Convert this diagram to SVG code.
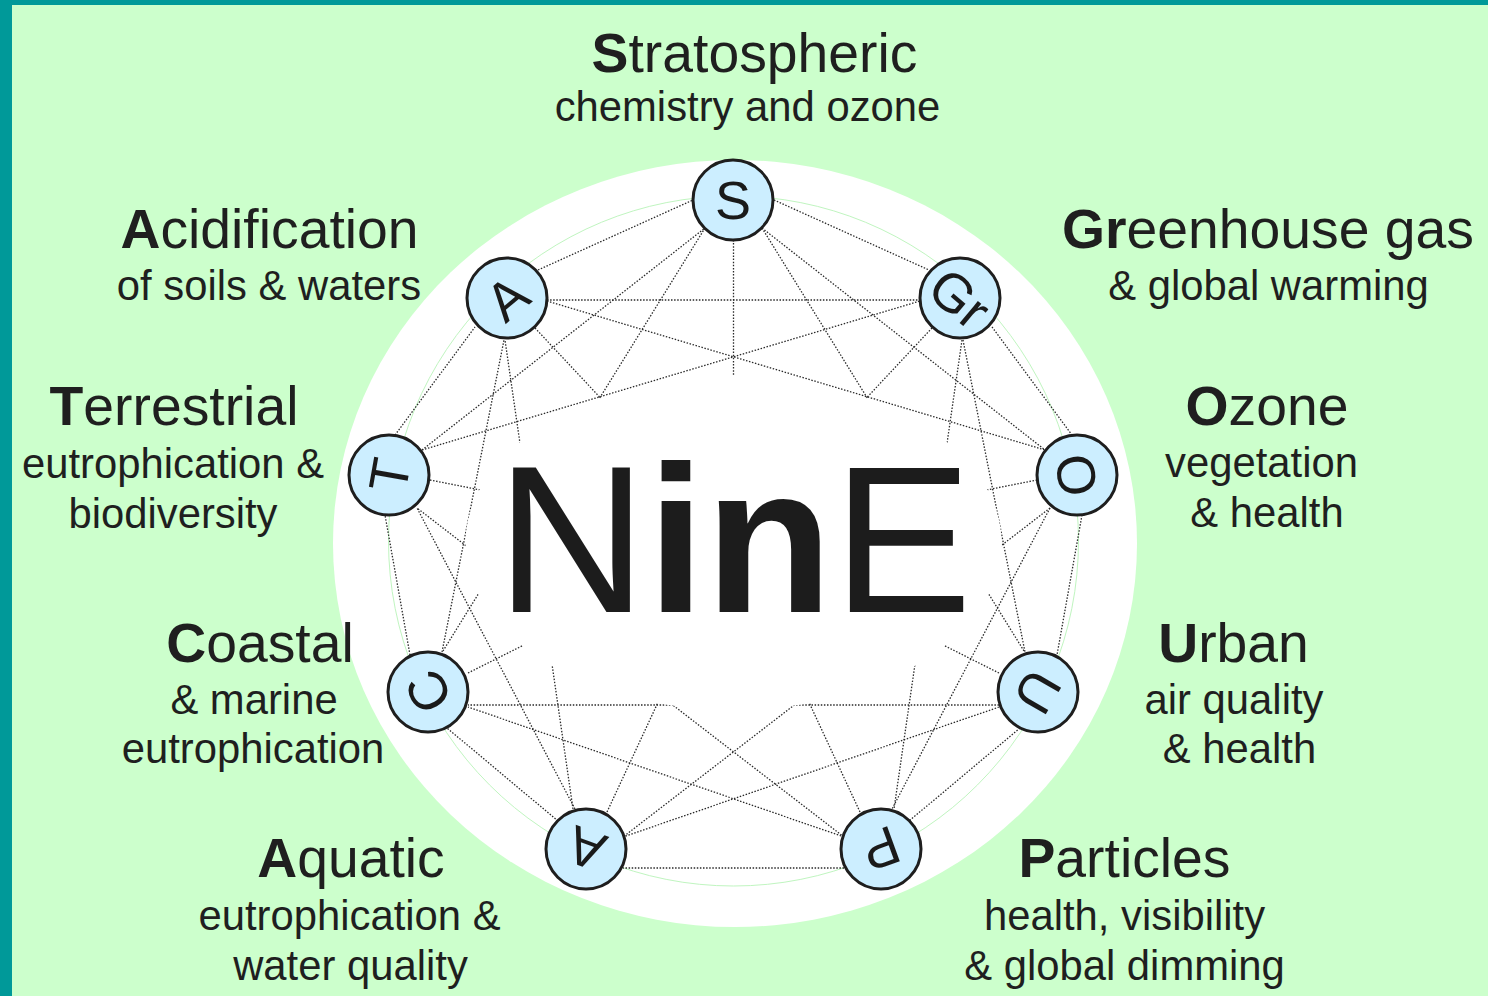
<svg xmlns="http://www.w3.org/2000/svg" width="1488" height="996" viewBox="0 0 1488 996">
<style>
.lbl{font-family:"Liberation Sans",Arial,sans-serif;fill:#1f1f1f;text-anchor:middle}
.t{font-size:55.3px}
.s{font-size:41.8px}
.b{font-weight:bold}
#connectors path{stroke:#2a2a2a;stroke-width:1.3;stroke-dasharray:1.5 1.6;fill:none}
.node circle{fill:#cceeff;stroke:#1e1e1e;stroke-width:3}
.node .ltr{font-family:"Liberation Sans",Arial,sans-serif;font-size:54px;text-anchor:middle;fill:#1a1a1a}
</style>
<rect x="0" y="0" width="1488" height="996" fill="#ccffcc"/>
<rect x="0" y="0" width="1488" height="5" fill="#009999"/>
<rect x="0" y="0" width="12" height="996" fill="#009999"/>
<ellipse cx="735" cy="543.5" rx="402" ry="383.5" fill="#ffffff"/>
<circle cx="733.5" cy="541" r="345" fill="none" stroke="#c0f5c0" stroke-width="1"/>
<g id="connectors">
<path d="M774 200 L929 270"/>
<path d="M992 327 L1072 435"/>
<path d="M1082 515 L1057 655"/>
<path d="M1020 728 L909 821"/>
<path d="M844 868 L623 868"/>
<path d="M558 821 L447 728"/>
<path d="M410 655 L385 515"/>
<path d="M395 435 L475 327"/>
<path d="M538 270 L693 200"/>
<path d="M762 228 L1045 450"/>
<path d="M963 340 L1025 652"/>
<path d="M1050 508 L892 809"/>
<path d="M999 707 L623 837"/>
<path d="M844 837 L468 707"/>
<path d="M575 809 L417 508"/>
<path d="M442 652 L504 340"/>
<path d="M422 450 L705 228"/>
<path d="M547 300 L920 300"/>
<path d="M762 228 L1024 651"/>
<path d="M962 340 L894 809"/>
<path d="M1050 508 L623 837"/>
<path d="M999 705 L468 705"/>
<path d="M844 837 L417 508"/>
<path d="M573 809 L505 340"/>
<path d="M443 651 L705 228"/>
<path d="M422 450 L920 301"/>
<path d="M547 301 L1045 450"/>
<path d="M733.5 240 L733.5 540"/>
<path d="M932 328 L733.5 540"/>
<path d="M1037 480 L733.5 540"/>
<path d="M999 673 L733.5 540"/>
<path d="M860 812 L733.5 540"/>
<path d="M607 812 L733.5 540"/>
<path d="M468 673 L733.5 540"/>
<path d="M430 480 L733.5 540"/>
<path d="M535 328 L733.5 540"/>
</g>
<ellipse cx="733.5" cy="543" rx="268" ry="167" fill="#ffffff"/>
<text x="496" y="612" font-family="'Liberation Sans',Arial,sans-serif" font-size="209" fill="#1c1c1c">N<tspan font-weight="bold">in</tspan>E</text>
<g id="node-S" class="node">
<circle cx="733" cy="200" r="40"/>
<text class="ltr" transform="translate(733 200) rotate(0)" x="0" y="19.3">S</text>
<text class="lbl t" x="754.5" y="72"><tspan class="b">S</tspan>tratospheric</text>
<text class="lbl s" x="747.5" y="121">chemistry and ozone</text>
</g>
<g id="node-Gr" class="node">
<circle cx="960" cy="298" r="40"/>
<text class="ltr" transform="translate(960 298) rotate(40)" x="0" y="19.3">Gr</text>
<text class="lbl t" x="1268" y="248"><tspan class="b">Gr</tspan>eenhouse gas</text>
<text class="lbl s" x="1268.5" y="300">&amp; global warming</text>
</g>
<g id="node-O" class="node">
<circle cx="1077" cy="475" r="40"/>
<text class="ltr" transform="translate(1077 475) rotate(80)" x="0" y="19.3">O</text>
<text class="lbl t" x="1267" y="425"><tspan class="b">O</tspan>zone</text>
<text class="lbl s" x="1261.5" y="477">vegetation</text>
<text class="lbl s" x="1267" y="527">&amp; health</text>
</g>
<g id="node-U" class="node">
<circle cx="1038" cy="692" r="40"/>
<text class="ltr" transform="translate(1038 692) rotate(120)" x="0" y="19.3">U</text>
<text class="lbl t" x="1233.5" y="662"><tspan class="b">U</tspan>rban</text>
<text class="lbl s" x="1234" y="714">air quality</text>
<text class="lbl s" x="1239.5" y="763">&amp; health</text>
</g>
<g id="node-P" class="node">
<circle cx="881" cy="849" r="40"/>
<text class="ltr" transform="translate(881 849) rotate(160)" x="0" y="19.3">P</text>
<text class="lbl t" x="1124.5" y="877"><tspan class="b">P</tspan>articles</text>
<text class="lbl s" x="1124.5" y="930">health, visibility</text>
<text class="lbl s" x="1124.5" y="980">&amp; global dimming</text>
</g>
<g id="node-Aq" class="node">
<circle cx="586" cy="849" r="40"/>
<text class="ltr" transform="translate(586 849) rotate(200)" x="0" y="19.3">A</text>
<text class="lbl t" x="351" y="877"><tspan class="b">A</tspan>quatic</text>
<text class="lbl s" x="349.5" y="930">eutrophication &amp;</text>
<text class="lbl s" x="350.5" y="980">water quality</text>
</g>
<g id="node-C" class="node">
<circle cx="428" cy="692" r="40"/>
<text class="ltr" transform="translate(428 692) rotate(240)" x="0" y="19.3">C</text>
<text class="lbl t" x="260" y="662"><tspan class="b">C</tspan>oastal</text>
<text class="lbl s" x="254" y="714">&amp; marine</text>
<text class="lbl s" x="253" y="763">eutrophication</text>
</g>
<g id="node-T" class="node">
<circle cx="389" cy="475" r="40"/>
<text class="ltr" transform="translate(389 475) rotate(280)" x="0" y="19.3">T</text>
<text class="lbl t" x="174" y="425"><tspan class="b">T</tspan>errestrial</text>
<text class="lbl s" x="173" y="478">eutrophication &amp;</text>
<text class="lbl s" x="173" y="528">biodiversity</text>
</g>
<g id="node-Ac" class="node">
<circle cx="507" cy="298" r="40"/>
<text class="ltr" transform="translate(507 298) rotate(320)" x="0" y="19.3">A</text>
<text class="lbl t" x="269.5" y="248"><tspan class="b">A</tspan>cidification</text>
<text class="lbl s" x="269" y="300">of soils &amp; waters</text>
</g>
</svg>
